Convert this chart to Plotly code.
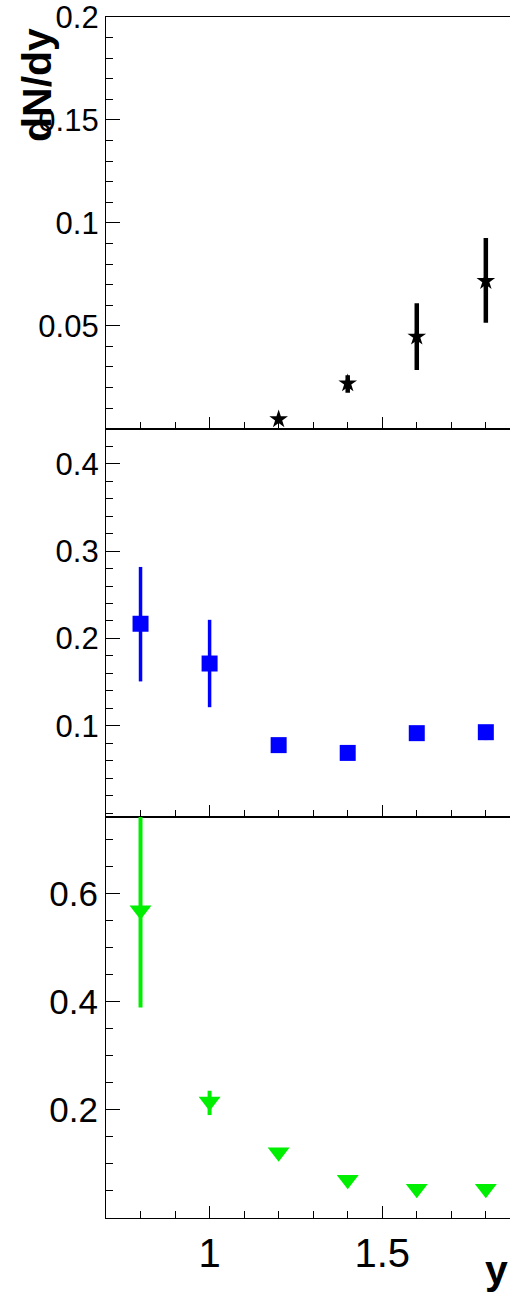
import plotly.graph_objects as go

# ---- data ----
x_pts = [0.8, 1.0, 1.2, 1.4, 1.6, 1.8]

# panel 1 (black stars)
x1 = [1.2, 1.4, 1.6, 1.8]
y1 = [0.0046, 0.022, 0.0447, 0.0717]
e1_up = [0.001, 0.004, 0.0162, 0.021]
e1_dn = [0.001, 0.0045, 0.0162, 0.0202]

# panel 2 (blue squares)
y2 = [0.2168, 0.1713, 0.0779, 0.069, 0.0916, 0.0927]
e2_up = [0.065, 0.050, 0.002, 0.002, 0.002, 0.003]
e2_dn = [0.066, 0.050, 0.002, 0.002, 0.002, 0.009]

# panel 3 (green down-triangles)
y3 = [0.569, 0.2153, 0.1218, 0.0707, 0.054, 0.054]
e3_up = [0.18, 0.02, 0.002, 0.002, 0.002, 0.002]
e3_dn = [0.18, 0.025, 0.002, 0.002, 0.002, 0.002]

y1_ticks = [0.05, 0.1, 0.15, 0.2]
y1_text = ["0.05", "0.1", "0.15", "0.2"]
y2_ticks = [0.1, 0.2, 0.3, 0.4]
y2_text = ["0.1", "0.2", "0.3", "0.4"]
y3_ticks = [0.2, 0.4, 0.6]
y3_text = ["0.2", "0.4", "0.6"]
x_ticks = [1.0, 1.5]
x_text = ["1", "1.5"]

W, H = 510, 1295
FONT = "Liberation Sans, Arial, Helvetica, sans-serif"

fig = go.Figure()

fig.add_trace(go.Scatter(
    x=x1, y=y1, mode="markers", xaxis="x", yaxis="y",
    marker=dict(symbol="star", size=14, color="black"),
    error_y=dict(type="data", array=e1_up, arrayminus=e1_dn, color="black",
                 thickness=4.5, width=0),
    cliponaxis=False, showlegend=False))

fig.add_trace(go.Scatter(
    x=x_pts, y=y2, mode="markers", xaxis="x2", yaxis="y2",
    marker=dict(symbol="square", size=16, color="#0000ff"),
    error_y=dict(type="data", array=e2_up, arrayminus=e2_dn, color="#0000ff",
                 thickness=3.5, width=0),
    showlegend=False))

fig.add_trace(go.Scatter(
    x=x_pts, y=y3, mode="markers", xaxis="x3", yaxis="y3",
    marker=dict(symbol="triangle-down", size=19, color="#00ee00"),
    error_y=dict(type="data", array=e3_up, arrayminus=e3_dn, color="#00ee00",
                 thickness=4, width=0),
    showlegend=False))

xdom = [106 / W, 1.0]
d1 = [1 - 428.7 / H, 1 - 17 / H]
d2 = [1 - 816.7 / H, 1 - 428.7 / H]
d3 = [1 - 1218 / H, 1 - 816.7 / H]

def xax(anchor, show_labels):
    return dict(
        domain=xdom, range=[0.7, 1.87], anchor=anchor, automargin=False,
        showline=True, linecolor="black", linewidth=1.3, mirror=True,
        showgrid=False, zeroline=False,
        tickmode="array", tickvals=x_ticks, ticktext=x_text,
        ticks="inside", ticklen=12, tickwidth=1.3, tickcolor="black",
        minor=dict(tickmode="linear", tick0=0, dtick=0.1, ticks="inside",
                   ticklen=7, tickwidth=1.3, tickcolor="black", showgrid=False),
        showticklabels=show_labels, ticklabeloverflow="allow",
        tickfont=dict(family=FONT, size=40, color="black"),
    )

def yax(anchor, dom, rng, tv, tt, mdt, fsize):
    return dict(
        domain=dom, range=rng, anchor=anchor, automargin=False,
        showline=True, linecolor="black", linewidth=1.3, mirror=False,
        showgrid=False, zeroline=False,
        tickmode="array", tickvals=tv, ticktext=tt,
        ticks="inside", ticklen=14, tickwidth=1.3, tickcolor="black",
        minor=dict(tickmode="linear", tick0=0, dtick=mdt, ticks="inside",
                   ticklen=7, tickwidth=1.3, tickcolor="black", showgrid=False),
        ticklabeloverflow="allow",
        tickfont=dict(family=FONT, size=fsize, color="black"),
    )

fig.update_layout(
    width=W, height=H,
    margin=dict(l=0, r=0, t=0, b=0, autoexpand=False),
    paper_bgcolor="white", plot_bgcolor="white",
    xaxis=xax("y", False),
    xaxis2=xax("y2", False),
    xaxis3=xax("y3", True),
    yaxis=yax("x", d1, [0, 0.2], y1_ticks, y1_text, 0.01, 31),
    yaxis2=yax("x2", d2, [-0.004, 0.44], y2_ticks, y2_text, 0.02, 31),
    yaxis3=yax("x3", d3, [0, 0.742], y3_ticks, y3_text, 0.05, 35),
    annotations=[
        dict(text="<b>dN/dy</b>", xref="paper", yref="paper",
             x=37 / W, y=1 - 26 / H, xanchor="center", yanchor="top",
             textangle=-90, showarrow=False,
             font=dict(family=FONT, size=41, color="black")),
        dict(text="<b>y</b>", xref="paper", yref="paper",
             x=1.0, y=0.0, xanchor="right", yanchor="bottom",
             showarrow=False,
             font=dict(family=FONT, size=41, color="black")),
    ],
)

fig.write_html("out.html")
